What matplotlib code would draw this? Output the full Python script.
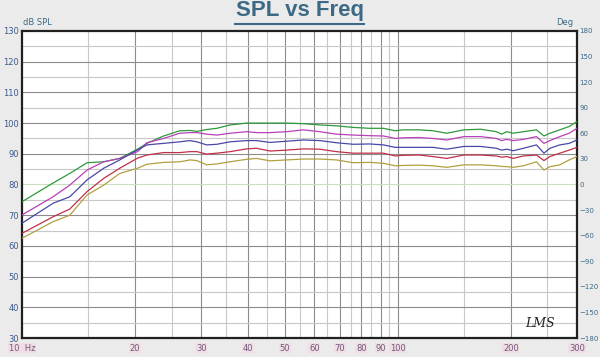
import matplotlib.pyplot as plt
from matplotlib.lines import Line2D
from matplotlib.ticker import FixedLocator, NullFormatter

# frequency points (Hz)
freq = [10, 12.1, 13.4, 14.9, 16.5, 18.2, 20.3, 21.5, 23.8, 26.3, 28, 29.2, 31, 33,
        35.8, 39.6, 42.1, 45.7, 50.6, 56.1, 62, 68.7, 76.1, 84.3, 91.6, 98.4, 103,
        114, 124, 135, 150, 166, 183, 189, 195, 203, 216, 234, 245, 254, 270, 286, 300]

spl_green = [74.4, 80.5, 83.6, 87.1, 87.4, 88.5, 91.5, 93.4, 95.8, 97.5, 97.6, 97.3, 97.9, 98.3,
             99.4, 100.0, 100.0, 100.0, 100.0, 99.8, 99.4, 99.1, 98.6, 98.3, 98.3, 97.5, 97.8,
             97.8, 97.5, 96.7, 97.8, 98.0, 97.2, 96.4, 97.2, 96.7, 97.2, 97.8, 95.8, 96.7, 97.8, 98.9, 100.5]
spl_magenta = [70.1, 76.0, 79.8, 84.7, 87.4, 88.5, 90.7, 93.6, 95.0, 96.7, 96.9, 96.9, 96.4, 96.1,
               96.7, 97.2, 96.9, 96.9, 97.2, 97.8, 97.2, 96.4, 96.1, 95.9, 95.8, 95.0, 95.2,
               95.3, 95.0, 94.5, 95.6, 95.6, 95.0, 94.3, 94.7, 94.3, 94.7, 95.6, 93.4, 94.3, 95.6, 96.7, 98.3]
spl_blue = [67.4, 73.9, 76.0, 81.5, 85.3, 88.0, 91.3, 92.9, 93.4, 93.9, 94.3, 93.9, 92.9, 93.1,
            93.9, 94.3, 94.3, 93.7, 94.1, 94.5, 94.3, 93.6, 93.1, 93.2, 92.9, 92.1, 92.1,
            92.1, 92.1, 91.5, 92.4, 92.4, 91.8, 91.2, 91.5, 91.0, 91.8, 92.9, 90.2, 91.8, 92.9, 93.4, 94.5]
spl_red = [64.1, 69.5, 72.0, 77.7, 82.0, 85.3, 88.6, 89.6, 90.4, 90.4, 90.7, 90.7, 89.9, 90.2,
           90.7, 91.6, 91.8, 90.9, 91.2, 91.6, 91.5, 90.7, 90.2, 90.2, 90.2, 89.3, 89.5,
           89.6, 89.1, 88.5, 89.6, 89.6, 89.3, 88.9, 89.1, 88.5, 89.3, 89.6, 87.8, 89.1, 90.2, 91.2, 92.1]
spl_yellow = [62.5, 67.9, 70.0, 76.6, 79.8, 83.6, 85.3, 86.6, 87.2, 87.4, 88.0, 87.8, 86.4, 86.7,
              87.4, 88.2, 88.5, 87.7, 88.0, 88.3, 88.3, 88.0, 87.1, 87.2, 86.9, 86.1, 86.2,
              86.3, 86.1, 85.6, 86.4, 86.4, 86.1, 85.9, 85.8, 85.6, 86.1, 87.4, 84.7, 85.8, 86.4, 88.0, 89.1]

x_ticks = [10, 20, 30, 40, 50, 60, 70, 80, 90, 100, 200, 300]
x_labels = ["10  Hz", "20", "30", "40", "50", "60", "70", "80", "90", "100", "200", "300"]
x_minor = [15, 25, 35, 45, 55, 65, 75, 85, 95, 150, 250]
db_ticks = list(range(30, 131, 10))
deg_ticks = list(range(-180, 181, 30))

fig = plt.figure(figsize=(6, 3.57), dpi=100, facecolor="#ebebeb")
ax = fig.add_axes([0.0367, 0.0532, 0.925, 0.86])
ax.set_facecolor("white")
ax.set_xscale("log")
ax.set_xlim(10, 300)
ax.set_ylim(30, 130)

# grid
for f in x_minor:
    ax.axvline(f, color="#c8c8c8", lw=0.8, zorder=1)
for f in x_ticks[1:-1]:
    ax.axvline(f, color="#8c8c8c", lw=0.8, zorder=1)
for v in range(35, 130, 10):
    ax.axhline(v, color="#c8c8c8", lw=0.8, zorder=1)
for v in db_ticks[1:-1]:
    c = "#c8e0c0" if v == 80 else "#8c8c8c"
    ax.axhline(v, color=c, lw=0.8, zorder=1)

series = [
    (spl_green, "#2e9a3a"),
    (spl_magenta, "#b840b8"),
    (spl_blue, "#4848a8"),
    (spl_red, "#c03048"),
    (spl_yellow, "#b0a040"),
]
for vals, col in series:
    ax.plot(freq, vals, color=col, lw=0.9, zorder=3)

ax.xaxis.set_major_locator(FixedLocator(x_ticks))
ax.xaxis.set_minor_locator(FixedLocator(x_minor))
ax.xaxis.set_minor_formatter(NullFormatter())
ax.set_xticklabels(x_labels)
ax.set_yticks(db_ticks)
ax.tick_params(axis="both", which="both", length=0)
ax.tick_params(axis="x", labelsize=6, labelcolor="#6a5a7a", pad=4)
ax.tick_params(axis="y", labelsize=6, labelcolor="#3c5a8a", pad=2)
for lbl in ax.get_xticklabels():
    lbl.set_bbox(dict(facecolor="#f3dde4", edgecolor="none", pad=0.5))

for s in ax.spines.values():
    s.set_color("#202020")
    s.set_linewidth(1.6)

ax2 = ax.twinx()
ax2.set_ylim(-180, 180)
ax2.set_yticks(deg_ticks)
ax2.tick_params(axis="y", length=0, labelsize=5, labelcolor="#3c6a86", pad=1.5)
for s in ax2.spines.values():
    s.set_visible(False)

fig.text(0.038, 0.925, "dB SPL", fontsize=6, color="#3c6a86", ha="left", va="bottom")
fig.text(0.955, 0.925, "Deg", fontsize=6, color="#3c6a86", ha="right", va="bottom")

# title with underline
fig.text(0.5, 0.94, "SPL vs Freq", fontsize=16, fontweight="bold",
         family="Liberation Sans", color="#3c6a86", ha="center", va="bottom")
fig.add_artist(Line2D([0.392, 0.607], [0.932, 0.932], color="#3c6a86", lw=1.5,
                      transform=fig.transFigure))

fig.text(0.9, 0.075, "LMS", fontsize=9, fontstyle="italic", color="#202020",
         family="DejaVu Serif", ha="center", va="bottom")

fig.savefig("out.png", dpi=100, facecolor=fig.get_facecolor())
